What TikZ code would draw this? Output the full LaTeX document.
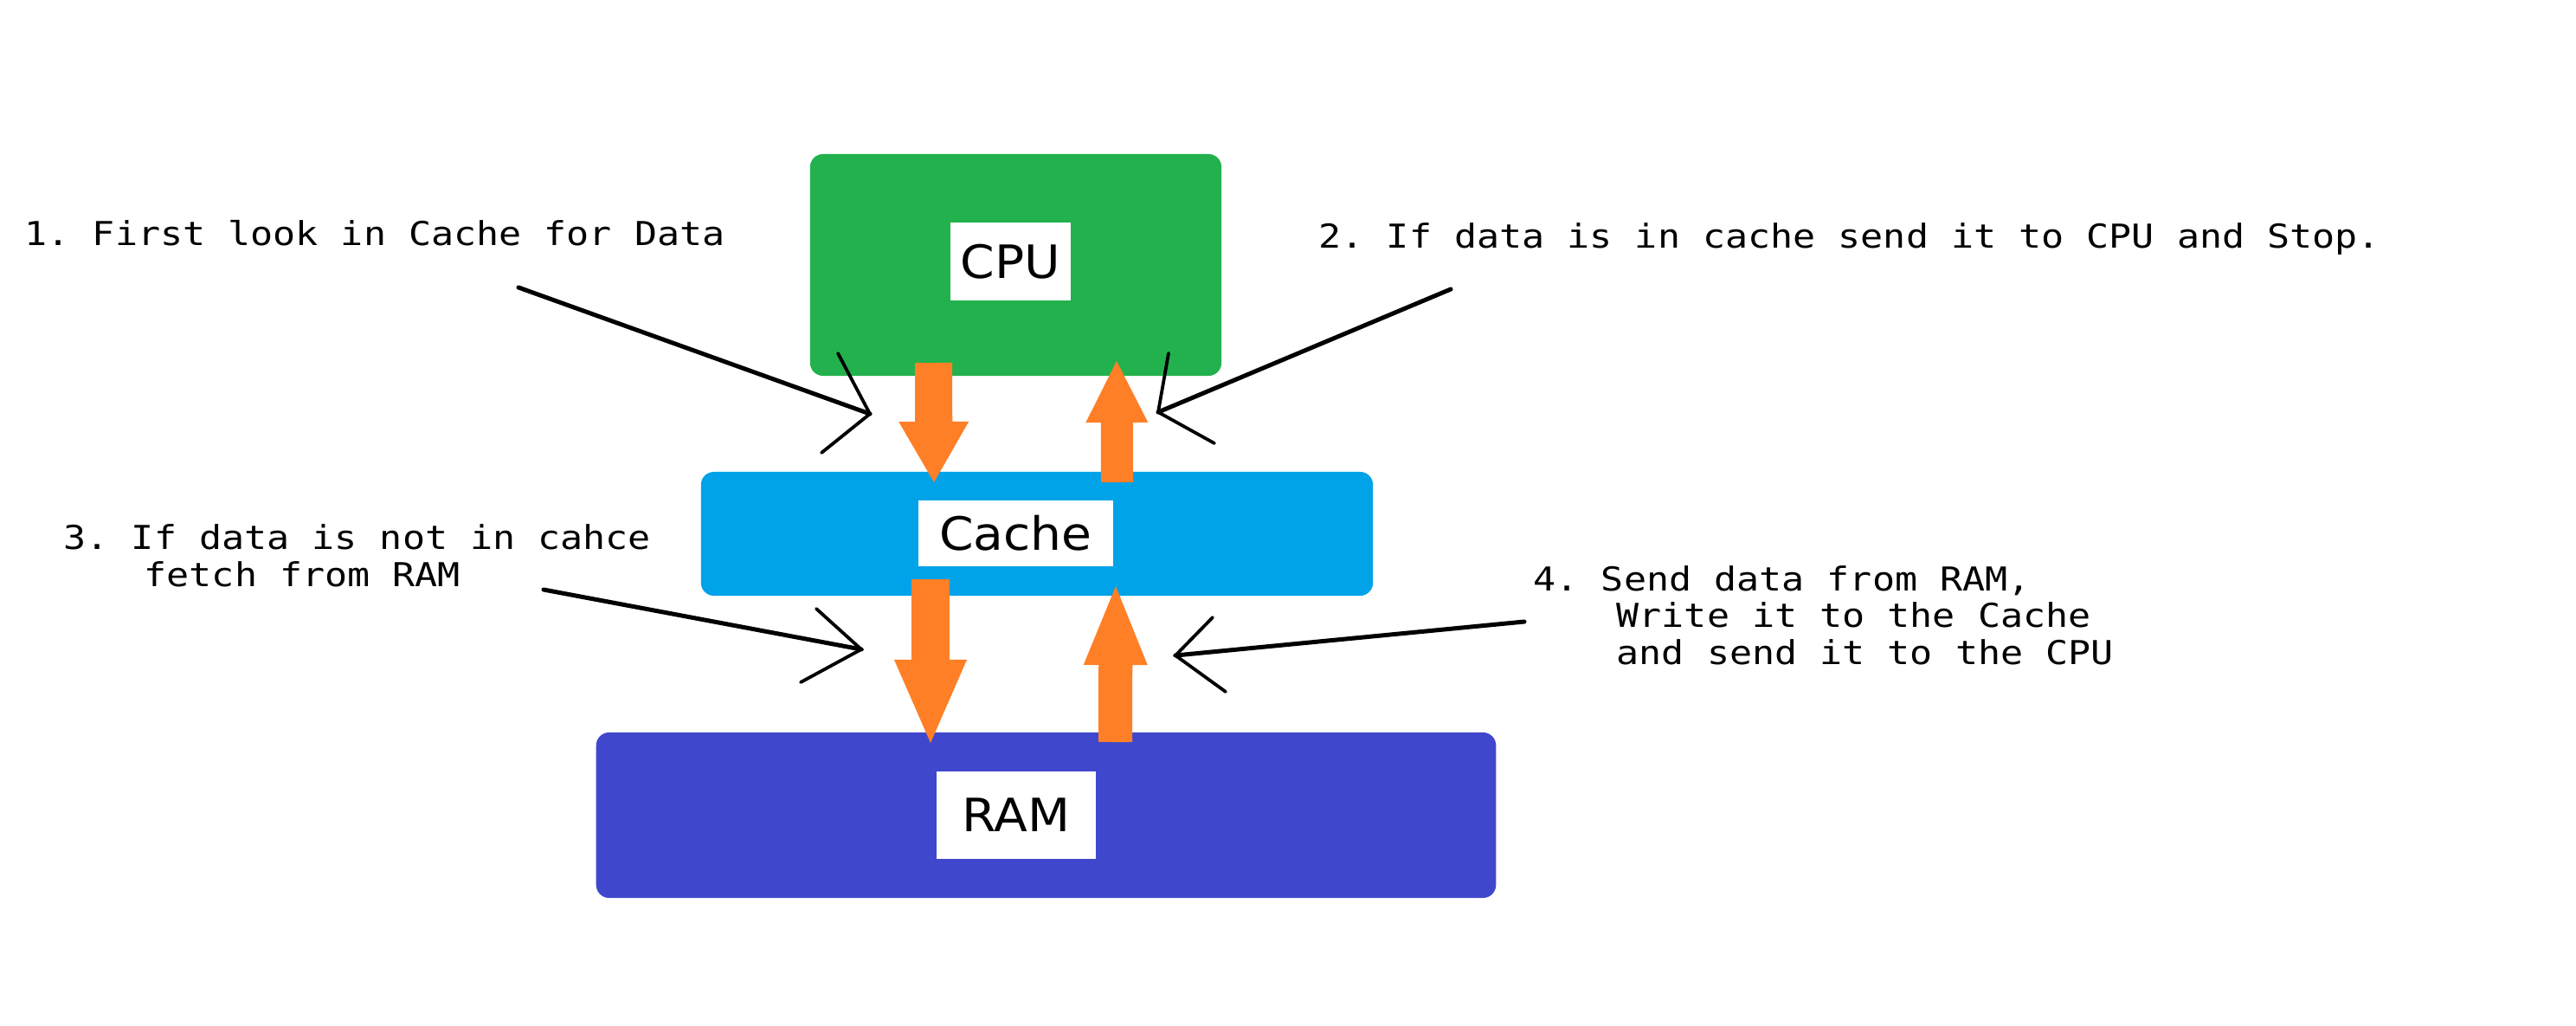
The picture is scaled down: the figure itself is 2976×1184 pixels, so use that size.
\documentclass[tikz,border=0pt]{standalone}
\usepackage{fontspec}
\usetikzlibrary{arrows.meta}
\newfontfamily\notefont[FakeStretch=1.14]{DejaVu Sans Mono}
\newfontfamily\labelfont[FakeStretch=1.07]{DejaVu Sans}
\definecolor{cpugreen}{HTML}{22B14C}
\definecolor{cacheblue}{HTML}{00A2E8}
\definecolor{ramindigo}{HTML}{3F48CC}
\definecolor{paintorange}{HTML}{FF7F27}
\begin{document}
\begin{tikzpicture}[x=0.01cm, y=-0.01cm,
  unitbox/.style={rectangle, rounded corners=0.15cm, inner sep=0pt, draw=none},
  labelbox/.style={rectangle, fill=white, inner sep=0pt, text=black,
    font=\labelfont\fontsize{15.08pt}{18pt}\selectfont},
  note/.style={anchor=base west, inner sep=0pt, text=black,
    font=\notefont\fontsize{10.81pt}{12.1pt}\selectfont\frenchspacing},
  fat/.style={draw=paintorange, line cap=butt},
  pointer/.style={draw=black, line width=0.05cm, line cap=round},
  pointerhead/.style={draw=black, line width=0.038cm, line cap=round, line join=miter},
]
\useasboundingbox (0,0) rectangle (2976,1184);

% units
\node[unitbox, fill=cpugreen, minimum width=4.75cm, minimum height=2.56cm] (cpu) at (1173.5,306) {};
\node[unitbox, fill=cacheblue, minimum width=7.76cm, minimum height=1.43cm] (cache) at (1198,616.5) {};
\node[unitbox, fill=ramindigo, minimum width=10.39cm, minimum height=1.91cm] (ram) at (1208.5,941.5) {};

% labels
\node[labelbox, minimum width=1.39cm, minimum height=0.90cm] (cpulabel) at (1167.5,302) {CPU};
\node[labelbox, minimum width=2.25cm, minimum height=0.76cm] (cachelabel) at (1173.5,616) {Cache};
\node[labelbox, minimum width=1.84cm, minimum height=1.01cm] (ramlabel) at (1174,941.5) {RAM};

% orange data arrows
\coordinate (a1s) at (1078.5,419); \coordinate (a1e) at (1079,557);
\coordinate (a2s) at (1290.5,557); \coordinate (a2e) at (1290,417);
\coordinate (a3s) at (1075,669);   \coordinate (a3e) at (1075,858);
\coordinate (a4s) at (1288.5,857); \coordinate (a4e) at (1289,677);
\draw[fat, line width=0.43cm, -{Triangle[width=0.81cm, length=0.70cm, line width=0pt]}] (a1s) -- (a1e);
\draw[fat, line width=0.37cm, -{Triangle[width=0.72cm, length=0.71cm, line width=0pt]}] (a2s) -- (a2e);
\draw[fat, line width=0.44cm, -{Triangle[width=0.84cm, length=0.96cm, line width=0pt]}] (a3s) -- (a3e);
\draw[fat, line width=0.39cm, -{Triangle[width=0.74cm, length=0.91cm, line width=0pt]}] (a4s) -- (a4e);

% callout pointers
\coordinate (p1from) at (599,332);  \coordinate (p1tip) at (1005,478);
\coordinate (p1l) at (968,408);     \coordinate (p1r) at (949,523);
\coordinate (p2from) at (1676,334); \coordinate (p2tip) at (1338,476);
\coordinate (p2l) at (1350,408);    \coordinate (p2r) at (1403,512);
\coordinate (p3from) at (628,681);  \coordinate (p3tip) at (995,750);
\coordinate (p3l) at (943,703);     \coordinate (p3r) at (925,788);
\coordinate (p4from) at (1761,718); \coordinate (p4tip) at (1358,757);
\coordinate (p4l) at (1401,713);    \coordinate (p4r) at (1416,799);

\draw[pointer] (p1from) -- (p1tip);
\draw[pointerhead] (p1l) -- (p1tip) -- (p1r);
\draw[pointer] (p2from) -- (p2tip);
\draw[pointerhead] (p2l) -- (p2tip) -- (p2r);
\draw[pointer] (p3from) -- (p3tip);
\draw[pointerhead] (p3l) -- (p3tip) -- (p3r);
\draw[pointer] (p4from) -- (p4tip);
\draw[pointerhead] (p4l) -- (p4tip) -- (p4r);

% notes
\node[note] (note1) at (28,283) {1. First look in Cache for Data};
\node[note] (note2) at (1523,286) {2. If data is in cache send it to CPU and Stop.};
\node[note] (note3a) at (73,634) {3. If data is not in cahce};
\node[note] (note3b) at (166,677) {fetch from RAM};
\node[note] (note4a) at (1771,682) {4. Send data from RAM,};
\node[note] (note4b) at (1867,724) {Write it to the Cache};
\node[note] (note4c) at (1867,767) {and send it to the CPU};
\end{tikzpicture}
\end{document}
